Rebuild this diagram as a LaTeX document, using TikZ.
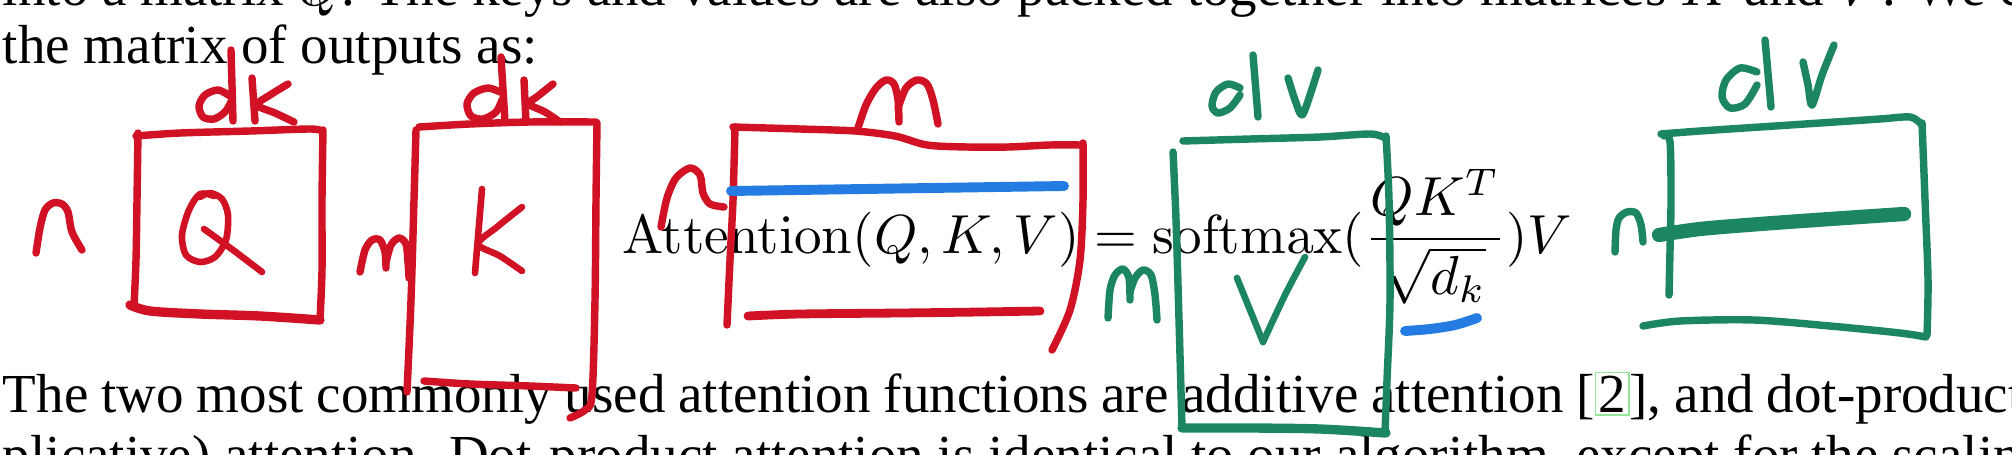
\documentclass[tikz,border=0pt]{standalone}
\usepackage[no-math]{fontspec}
\newfontfamily\bodyfont{Liberation Serif}
\definecolor{penred}{RGB}{208,18,36}
\definecolor{pengreen}{RGB}{28,134,96}
\definecolor{penblue}{RGB}{36,124,226}
\definecolor{linkgreen}{RGB}{150,228,150}
\newcommand\linkbox[1]{{\setlength\fboxsep{0.4pt}\setlength\fboxrule{0.25pt}\fcolorbox{linkgreen}{white}{\vphantom{2}#1}}}
\begin{document}
\begin{tikzpicture}[x=0.181818pt,y=-0.181818pt,
  txt/.style={anchor=base west,inner sep=0pt,outer sep=0pt,font=\bodyfont},
  pen/.style={line cap=round,line join=round},
  redpen/.style={pen,draw=penred,line width=1.35pt},
  greenpen/.style={pen,draw=pengreen,line width=1.35pt},
  bluepen/.style={pen,draw=penblue,line width=1.8pt}]
\useasboundingbox (0,0) rectangle (2012,454);
\fill[white] (0,0) rectangle (2012,454);
\begin{scope}
\clip (0,0) rectangle (2012,454);
% ---------- printed text ----------
\node[txt] (line1) at (3,5) {\makebox[397.5pt][s]{into a matrix $Q$. The keys and values are also packed together into matrices $K$ and $V$. We compute}};
\node[txt] (line2) at (3,64) {the matrix of outputs as:};
\node[anchor=base west,inner sep=0pt,outer sep=0pt] (formula) at (622,253)
  {$\displaystyle \mathrm{Attention}(Q,K,V)=\mathrm{softmax}(\frac{QK^T}{\sqrt{d_k}})V$};
\node[txt] (line3) at (3,412) {\makebox[397.5pt][s]{The two most commonly used attention functions are additive attention [\linkbox{2}], and dot-product (multi-}};
\node[txt] (line4) at (3,473) {plicative) attention. Dot-product attention is identical to our algorithm, except for the scaling factor of};
% ---------- red annotations ----------
% n
\draw[redpen] plot[smooth] coordinates {(36,253) (40,228) (45,210) (53,203) (62,204) (68,212) (72,232) (82,250)};
% dk over Q
\draw[redpen] plot[smooth] coordinates {(230,96) (218,90) (205,95) (199,106) (203,117) (214,119) (225,112) (231,102)};
\draw[redpen] (231,50) -- (233,121);
\draw[redpen] (252,78) -- (255,121);
\draw[redpen] plot[smooth] coordinates {(288,84) (270,95) (257,105) (275,113) (294,122)};
% Q box
\draw[redpen] plot[smooth] coordinates {(136,136) (180,133) (250,131) (310,129) (322,131)};
\draw[redpen] plot[smooth] coordinates {(323,130) (322,200) (322,270) (320,320)};
\draw[redpen] plot[smooth] coordinates {(138,133) (137,200) (136,260) (134,306)};
\draw[redpen,line width=1.7pt] plot[smooth] coordinates {(130,305) (150,311) (200,314) (260,316) (320,320)};
% Q letter
\draw[redpen,line width=1.2pt] plot[smooth] coordinates {(214,196) (200,194) (189,210) (182,235) (186,255) (200,262) (215,257) (226,240) (228,215) (222,199) (210,193) (200,197)};
\draw[redpen,line width=1.2pt] plot[smooth] coordinates {(204,229) (233,250) (262,272)};
% m left of K
\draw[redpen] plot[smooth] coordinates {(360,272) (365,250) (372,240) (380,240) (385,252) (386,268)};
\draw[redpen] plot[smooth] coordinates {(386,262) (391,245) (399,238) (406,244) (408,262) (409,278)};
% dk over K
\draw[redpen] plot[smooth] coordinates {(500,92) (488,88) (474,93) (467,104) (471,116) (483,119) (496,112) (502,100)};
\draw[redpen] (501,57) -- (505,122);
\draw[redpen] (524,80) -- (526,122);
\draw[redpen] plot[smooth] coordinates {(553,84) (538,96) (529,104) (545,112) (560,122)};
% K box
\draw[redpen] plot[smooth] coordinates {(419,127) (470,124) (530,122) (596,122)};
\draw[redpen] plot[smooth] coordinates {(416,130) (414,200) (411,300) (407,392)};
\draw[redpen] plot[smooth] coordinates {(597,123) (596,200) (595,300) (592,395) (585,410) (570,418)};
\draw[redpen] plot[smooth] coordinates {(424,381) (470,384) (530,386) (576,388)};
% K letter
\draw[redpen,line width=1.2pt] (482,189) -- (475,273);
\draw[redpen,line width=1.2pt] plot[smooth] coordinates {(522,207) (497,227) (478,244) (500,256) (522,271)};
% n left of big box
\draw[redpen] plot[smooth] coordinates {(661,227) (667,198) (676,178) (690,168) (700,175) (703,193) (710,204) (724,207)};
% m over big box
\draw[redpen] plot[smooth] coordinates {(858,128) (866,105) (876,88) (886,80) (894,84) (898,100) (899,122)};
\draw[redpen] plot[smooth] coordinates {(898,108) (906,88) (917,80) (927,84) (933,100) (938,124)};
% big box
\draw[redpen] plot[smooth] coordinates {(733,127) (800,129) (855,131) (895,136) (927,145) (967,147) (1008,147) (1050,145) (1082,145)};
\draw[redpen] plot[smooth] coordinates {(735,127) (733,200) (730,260) (727,325)};
\draw[redpen] plot[smooth] coordinates {(1083,143) (1083,200) (1080,260) (1070,310) (1052,350)};
\draw[redpen,line width=1.6pt] plot[smooth] coordinates {(748,316) (800,314) (900,313) (980,312) (1040,311)};
% ---------- blue annotations ----------
\draw[bluepen] (731,191) -- (1064,186);
\draw[bluepen] plot[smooth] coordinates {(1405,331) (1430,329) (1455,325) (1477,318)};
% ---------- green annotations ----------
% dv over V
\draw[greenpen] plot[smooth] coordinates {(1240,88) (1228,84) (1216,92) (1212,106) (1218,113) (1230,108) (1240,95)};
\draw[greenpen] (1253,55) -- (1258,117);
\draw[greenpen] plot[smooth] coordinates {(1288,78) (1295,100) (1302,115) (1310,95) (1318,70)};
% m left of V
\draw[greenpen] plot[smooth] coordinates {(1108,318) (1110,290) (1115,275) (1123,269) (1129,278) (1130,300)};
\draw[greenpen] plot[smooth] coordinates {(1130,292) (1135,278) (1143,270) (1151,275) (1155,295) (1157,320)};
% V box
\draw[greenpen] plot[smooth] coordinates {(1183,141) (1250,139) (1320,137) (1370,134) (1385,138)};
\draw[greenpen] plot[smooth] coordinates {(1386,136) (1389,200) (1390,300) (1387,380) (1385,432)};
\draw[greenpen] plot[smooth] coordinates {(1173,152) (1176,220) (1179,320) (1182,428)};
\draw[greenpen,line width=1.7pt] plot[smooth] coordinates {(1182,428) (1250,428) (1320,429) (1386,433)};
% V letter
\draw[greenpen,line width=1.2pt] plot[smooth] coordinates {(1237,278) (1250,310) (1263,342)};
\draw[greenpen,line width=1.2pt] plot[smooth] coordinates {(1263,342) (1285,295) (1305,257)};
% n left of output box
\draw[greenpen] plot[smooth] coordinates {(1615,252) (1616,230) (1619,218) (1627,212) (1636,213) (1641,225) (1643,242)};
% dv over output box
\draw[greenpen] plot[smooth] coordinates {(1757,72) (1740,68) (1726,80) (1722,97) (1730,108) (1745,104) (1757,85)};
\draw[greenpen] (1765,40) -- (1771,107);
\draw[greenpen] plot[smooth] coordinates {(1803,62) (1808,85) (1812,105) (1822,75) (1834,45)};
% output box
\draw[greenpen] plot[smooth] coordinates {(1661,134) (1700,131) (1760,127) (1820,123) (1880,119) (1910,117) (1921,124)};
\draw[greenpen] plot[smooth] coordinates {(1922,123) (1925,200) (1928,280) (1927,335)};
\draw[greenpen] plot[smooth] coordinates {(1664,136) (1670,142) (1671,200) (1670,250) (1669,295)};
\draw[greenpen] plot[smooth] coordinates {(1643,326) (1680,321) (1754,320) (1830,326) (1900,333) (1926,337)};
\draw[greenpen,line width=2.6pt] plot[smooth] coordinates {(1659,235) (1700,229) (1760,224) (1830,219) (1904,214)};
\end{scope}
\end{tikzpicture}
\end{document}
